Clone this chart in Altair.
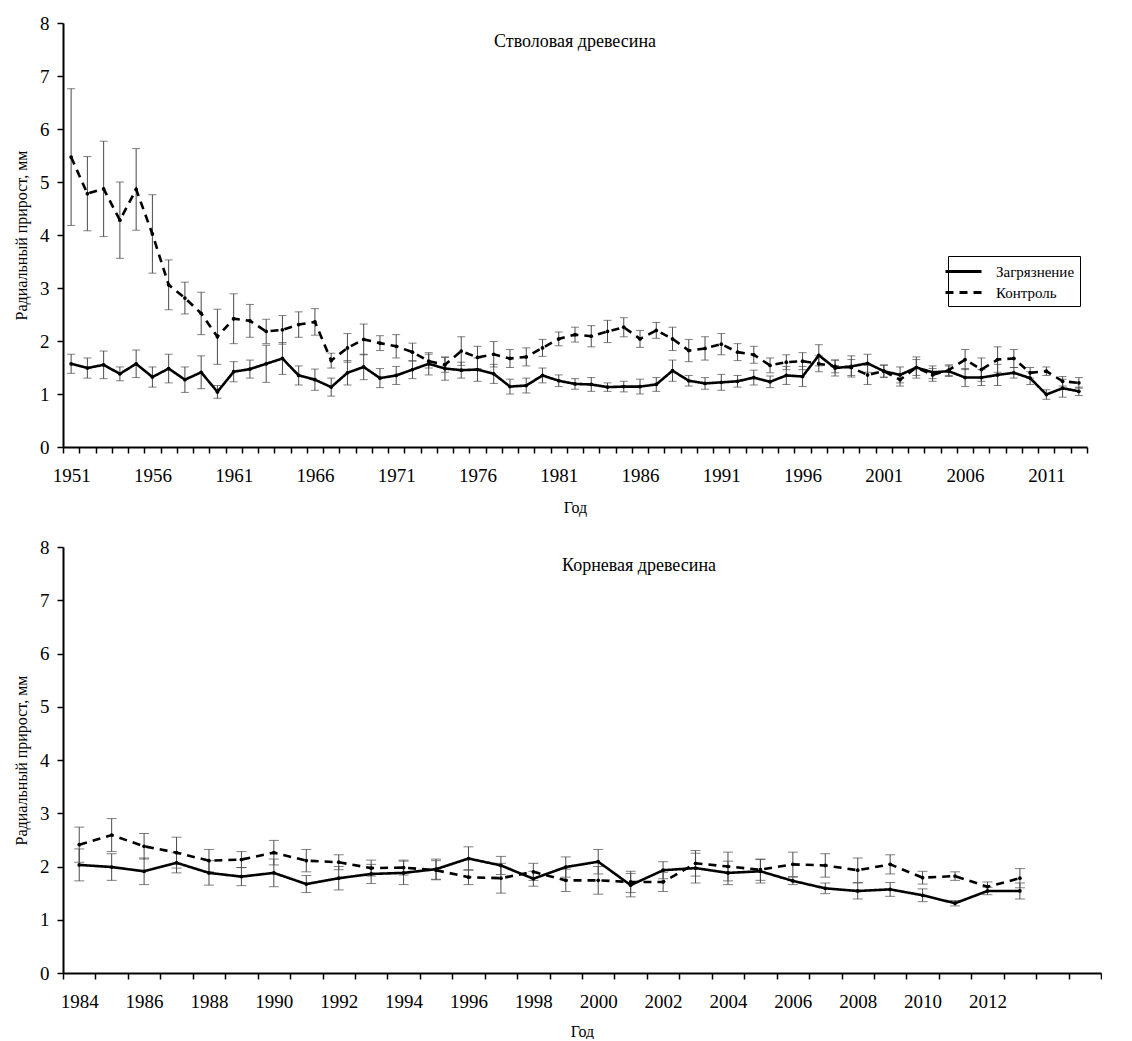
import altair as alt
import pandas as pd

FONT = "Liberation Serif"
S_POL = "Загрязнение"
S_CTL = "Контроль"

# ---------------- Стволовая древесина (1951-2013) ----------------
stem_years = list(range(1951, 2014))
stem_pol = [1.57, 1.49, 1.55, 1.38, 1.57, 1.32, 1.48, 1.27, 1.41, 1.04,
            1.42, 1.47, 1.57, 1.67, 1.35, 1.27, 1.13, 1.40, 1.51, 1.30,
            1.35, 1.46, 1.57, 1.48, 1.45, 1.46, 1.38, 1.14, 1.16, 1.35,
            1.25, 1.19, 1.18, 1.13, 1.14, 1.14, 1.18, 1.44, 1.25, 1.20,
            1.22, 1.24, 1.31, 1.23, 1.35, 1.33, 1.73, 1.49, 1.52, 1.58,
            1.43, 1.36, 1.50, 1.41, 1.43, 1.31, 1.31, 1.36, 1.40, 1.30,
            0.99, 1.11, 1.05]
stem_pol_err = [0.18, 0.19, 0.26, 0.13, 0.26, 0.19, 0.27, 0.24, 0.31, 0.12,
                0.19, 0.17, 0.35, 0.30, 0.18, 0.20, 0.17, 0.23, 0.24, 0.18,
                0.17, 0.17, 0.21, 0.22, 0.15, 0.22, 0.18, 0.14, 0.14, 0.14,
                0.11, 0.10, 0.13, 0.08, 0.10, 0.14, 0.13, 0.20, 0.10, 0.11,
                0.15, 0.11, 0.14, 0.11, 0.17, 0.19, 0.20, 0.15, 0.20, 0.17,
                0.12, 0.15, 0.20, 0.12, 0.10, 0.17, 0.15, 0.20, 0.10, 0.12,
                0.09, 0.17, 0.08]
stem_ctl = [5.47, 4.78, 4.87, 4.28, 4.86, 4.02, 3.06, 2.81, 2.52, 2.08,
            2.42, 2.38, 2.18, 2.21, 2.31, 2.36, 1.63, 1.87, 2.03, 1.96,
            1.90, 1.79, 1.62, 1.55, 1.81, 1.69, 1.75, 1.67, 1.70, 1.87,
            2.04, 2.12, 2.09, 2.18, 2.26, 2.04, 2.20, 2.04, 1.82, 1.86,
            1.94, 1.79, 1.74, 1.54, 1.60, 1.62, 1.57, 1.52, 1.50, 1.36,
            1.43, 1.27, 1.50, 1.36, 1.45, 1.65, 1.46, 1.65, 1.67, 1.40,
            1.43, 1.24, 1.21]
stem_ctl_err = [1.29, 0.70, 0.90, 0.72, 0.77, 0.74, 0.47, 0.30, 0.40, 0.52,
                0.47, 0.31, 0.23, 0.27, 0.24, 0.25, 0.14, 0.27, 0.29, 0.14,
                0.22, 0.17, 0.13, 0.14, 0.27, 0.21, 0.24, 0.17, 0.17, 0.16,
                0.13, 0.14, 0.20, 0.21, 0.18, 0.16, 0.15, 0.22, 0.21, 0.22,
                0.20, 0.16, 0.16, 0.14, 0.14, 0.16, 0.15, 0.12, 0.15, 0.18,
                0.11, 0.12, 0.15, 0.12, 0.10, 0.19, 0.22, 0.24, 0.17, 0.10,
                0.08, 0.09, 0.10]

# ---------------- Корневая древесина (1984-2013) ----------------
root_years = list(range(1984, 2014))
root_axis_years = list(range(1984, 2016))
root_pol = [2.03, 1.99, 1.91, 2.07, 1.88, 1.81, 1.88, 1.67, 1.78, 1.86,
            1.88, 1.95, 2.15, 2.02, 1.77, 1.99, 2.09, 1.65, 1.93, 1.97,
            1.88, 1.91, 1.73, 1.59, 1.54, 1.57, 1.46, 1.31, 1.54, 1.54]
root_pol_err = [0.30, 0.25, 0.25, 0.19, 0.23, 0.17, 0.26, 0.16, 0.22, 0.18,
                0.22, 0.19, 0.22, 0.17, 0.14, 0.19, 0.23, 0.22, 0.16, 0.28,
                0.22, 0.22, 0.07, 0.10, 0.15, 0.13, 0.12, 0.05, 0.07, 0.15]
root_ctl = [2.41, 2.59, 2.38, 2.26, 2.11, 2.13, 2.26, 2.11, 2.08, 1.97,
            1.98, 1.93, 1.80, 1.78, 1.90, 1.74, 1.74, 1.71, 1.71, 2.06,
            2.00, 1.94, 2.04, 2.02, 1.93, 2.04, 1.79, 1.82, 1.62, 1.78]
root_ctl_err = [0.33, 0.31, 0.24, 0.29, 0.21, 0.15, 0.23, 0.21, 0.14, 0.15,
                0.14, 0.18, 0.14, 0.28, 0.16, 0.21, 0.26, 0.20, 0.18, 0.24,
                0.27, 0.20, 0.23, 0.22, 0.23, 0.18, 0.12, 0.08, 0.09, 0.18]


def long_df(years, pol, pol_err, ctl, ctl_err):
    rows = []
    for name, vals, errs in ((S_POL, pol, pol_err), (S_CTL, ctl, ctl_err)):
        for yr, v, e in zip(years, vals, errs):
            rows.append({"year": yr, "series": name, "value": v,
                         "lo": round(v - e, 3), "hi": round(v + e, 3)})
    return pd.DataFrame(rows)


def panel(df, axis_years, first_label, last_label, label_step, width, height,
          title, title_x, legend, cap, title_pad):
    xaxis = alt.Axis(title="Год", tickBand="extent", labelAngle=0,
                     labelExpr=(f"((datum.value - {first_label}) % {label_step} == 0"
                                f" && datum.value <= {last_label}) ? datum.label : ''"),
                     labelPadding=13, tickSize=6, tickWidth=1.5,
                     labelOverlap=False, labelFont=FONT, labelFontSize=19,
                     titleFont=FONT, titleFontSize=16, titleFontWeight="normal",
                     titlePadding=title_pad, domainWidth=2, domainColor="black",
                     tickColor="black", labelColor="black", titleColor="black")
    yaxis = alt.Axis(title="Радиальный прирост, мм", values=list(range(9)),
                     tickSize=6, tickWidth=1.5, labelPadding=8, grid=False,
                     labelFont=FONT, labelFontSize=19, titleFont=FONT,
                     titleFontSize=16, titleFontWeight="normal", titlePadding=10,
                     domainWidth=2, domainColor="black", tickColor="black",
                     labelColor="black", titleColor="black")
    xs = alt.Scale(domain=axis_years, paddingInner=0, paddingOuter=0)
    ys = alt.Scale(domain=[0, 8], nice=False)
    X = alt.X("year:O", scale=xs, axis=xaxis)

    base = alt.Chart(df)
    rules = base.mark_rule(color="#4a4a4a", strokeWidth=1).encode(
        x=X, y=alt.Y("lo:Q", scale=ys, axis=yaxis), y2="hi:Q")
    cap_lo = base.mark_tick(color="#4a4a4a", size=cap, thickness=1).encode(
        x=X, y=alt.Y("lo:Q", scale=ys, axis=yaxis))
    cap_hi = base.mark_tick(color="#4a4a4a", size=cap, thickness=1).encode(
        x=X, y=alt.Y("hi:Q", scale=ys, axis=yaxis))
    if legend:
        leg = alt.Legend(title=None, orient="none", legendX=885, legendY=233,
                         strokeColor="black", fillColor="white", padding=5,
                         symbolType="M-2,0L2,0", symbolSize=324,
                         symbolStrokeWidth=3, symbolStrokeColor="black",
                         symbolFillColor="transparent", labelFont=FONT,
                         labelFontSize=15, labelColor="black", rowPadding=2,
                         labelOffset=22)
    else:
        leg = None
    lines = base.mark_line(color="black", strokeWidth=2.6).encode(
        x=X, y=alt.Y("value:Q", scale=ys, axis=yaxis),
        strokeDash=alt.StrokeDash("series:N",
                                  scale=alt.Scale(domain=[S_POL, S_CTL],
                                                  range=[[1, 0], [8, 6]]),
                                  legend=leg))
    pts = base.mark_point(filled=True, size=14, color="black", opacity=1).encode(
        x=X, y=alt.Y("value:Q", scale=ys, axis=yaxis), detail="series:N")
    ttl = alt.Chart(pd.DataFrame({"t": [title]})).mark_text(
        font=FONT, fontSize=18, align="center", baseline="middle", color="black"
    ).encode(x=alt.value(title_x), y=alt.value(19), text="t:N")
    return alt.layer(rules, cap_lo, cap_hi, lines, pts, ttl).properties(
        width=width, height=height)


stem_df = long_df(stem_years, stem_pol, stem_pol_err, stem_ctl, stem_ctl_err)
root_df = long_df(root_years, root_pol, root_pol_err, root_ctl, root_ctl_err)

top = panel(stem_df, stem_years, 1951, 2013, 5, 1024, 424,
            "Стволовая древесина", 512, True, 8, 14)
bottom = panel(root_df, root_axis_years, 1984, 2013, 2, 1038, 426,
               "Корневая древесина", 576, False, 10, 12)

chart = alt.vconcat(top, bottom, spacing=23).properties(
    padding={"left": 5, "top": 6, "right": 0, "bottom": 0},
    background="white",
).configure_view(stroke=None)

chart.save("out.html", embed_options={"renderer": "svg", "actions": False})
